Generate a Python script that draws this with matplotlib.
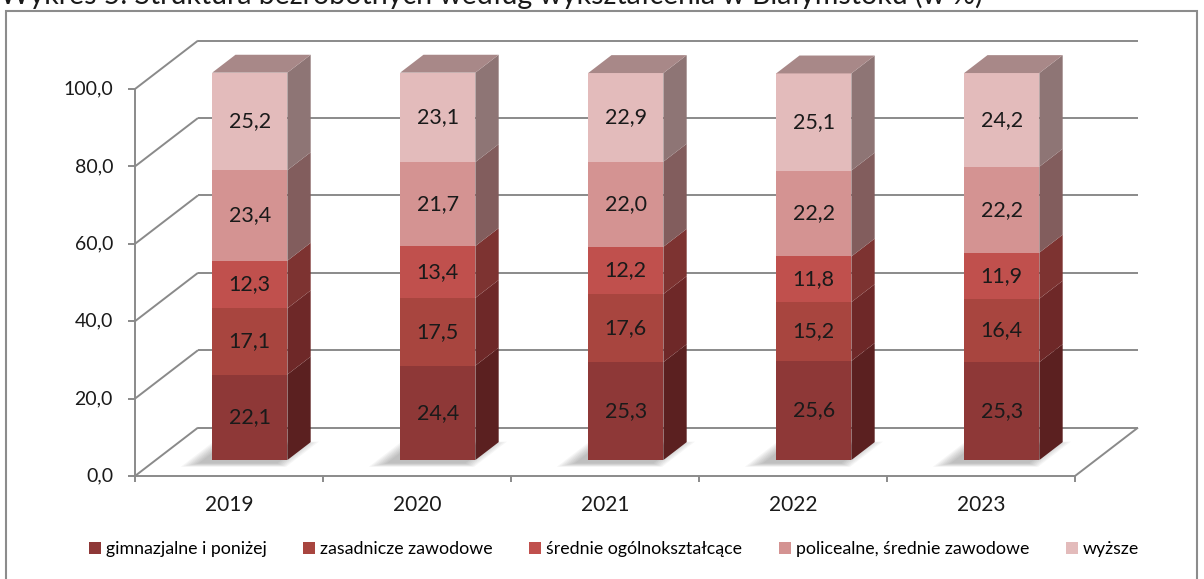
import matplotlib
matplotlib.use("Agg")
import matplotlib.pyplot as plt
from matplotlib.patches import Polygon, Rectangle, Patch

# data (%)
years = ["2019", "2020", "2021", "2022", "2023"]
gimnazjalne = [22.1, 24.4, 25.3, 25.6, 25.3]
zasadnicze = [17.1, 17.5, 17.6, 15.2, 16.4]
srednie_ogolne = [12.3, 13.4, 12.2, 11.8, 11.9]
policealne = [23.4, 21.7, 22.0, 22.2, 22.2]
wyzsze = [25.2, 23.1, 22.9, 25.1, 24.2]

series_names = ["gimnazjalne i poniżej", "zasadnicze zawodowe", "średnie ogólnokształcące",
                "policealne, średnie zawodowe", "wyższe"]
y_ticks = [0, 20, 40, 60, 80, 100]
title = "Wykres 5. Struktura bezrobotnych według wykształcenia w Białymstoku (w %)"

front_colors = ["#8e3837", "#a8453f", "#c0504d", "#d49392", "#e3bbbb"]
side_colors = ["#5b2020", "#6e2828", "#7d3331", "#825d5d", "#8e7575"]
top_color = "#a88888"
grid_color = "#8a8a8a"

plt.rcParams["font.family"] = ["Lato", "DejaVu Sans"]

W, H = 1204, 579
fig = plt.figure(figsize=(W / 100, H / 100), dpi=100)
ax = fig.add_axes([0, 0, 1, 1])

# pixel scale of the front plane
PX_X, PX_Y = 188.0, 3.87
x0 = -0.5 - 135 / PX_X
y0 = -(H - 476) / PX_Y
ax.set_xlim(x0, x0 + W / PX_X)
ax.set_ylim(y0, y0 + H / PX_Y)
ax.axis("off")

# fake 3d: depth offset of the back wall, bar depth range and width
DX, DY = 0.335, 12.5
D1, D2 = 0.33, 0.70
BW = 0.40
n = len(years)
xa, xb = -0.5, n - 0.5


def proj(x, y, d):
    return (x + DX * d, y + DY * d)


def seg(p, q, **kw):
    ax.plot([p[0], q[0]], [p[1], q[1]], color=grid_color, lw=1.4,
            solid_capstyle="butt", **kw)


# walls and gridlines
for v in y_ticks:
    seg(proj(xa, v, 1), proj(xb, v, 1))
    seg((xa, v), proj(xa, v, 1))
    seg((xa - 0.037, v), (xa, v))
    ax.text(xa - 0.117, v, f"{v:.1f}".replace(".", ","), ha="right", va="center",
            fontsize=14, color="#1a1a1a")
seg((xa, 0), (xa, y_ticks[-1]))
seg((xa, 0), (xb, 0))
seg((xb, 0), proj(xb, 0, 1))
for k in range(n + 1):
    seg((xa + k, 0), (xa + k, -1.6))

for i, yr in enumerate(years):
    ax.text(i, -7.4, yr, ha="center", va="center", fontsize=15, color="#1a1a1a")

# bars
data = [gimnazjalne, zasadnicze, srednie_ogolne, policealne, wyzsze]
for i in range(n):
    xl, xr = i - BW / 2, i + BW / 2
    # soft shadow on the floor
    for k in range(8):
        e = 0.01 * k
        sh = [proj(xl - 0.05 - e, 0, D1 - 0.07 - e), proj(xr - 0.03 + e, 0, D1 - 0.07 - e),
              proj(xr - 0.03 + e, 0, D2 - 0.06 + e), proj(xl - 0.05 - e, 0, D2 - 0.06 + e)]
        ax.add_patch(Polygon(sh, closed=True, fc="#505050", ec="none", alpha=0.05))
    bottom = 0.0
    for s, vals in enumerate(data):
        h = vals[i]
        ax.bar(i + DX * D1, h, width=BW, bottom=bottom + DY * D1,
               color=front_colors[s], edgecolor="none", zorder=3)
        side = [proj(xr, bottom, D1), proj(xr, bottom, D2),
                proj(xr, bottom + h, D2), proj(xr, bottom + h, D1)]
        ax.add_patch(Polygon(side, closed=True, fc=side_colors[s], ec="none", zorder=3))
        ax.text(i + DX * D1, bottom + h / 2 + DY * D1, f"{h:.1f}".replace(".", ","),
                ha="center", va="center", fontsize=15.5, color="#1a1a1a", zorder=4)
        bottom += h
    top = [proj(xl, bottom, D1), proj(xr, bottom, D1),
           proj(xr, bottom, D2), proj(xl, bottom, D2)]
    ax.add_patch(Polygon(top, closed=True, fc=top_color, ec="none", zorder=3))

# chart frame and title (title sits partly above the image edge)
fig.patches.append(Rectangle((6 / W, -0.02), (1197 - 6) / W, (H - 11) / H + 0.02,
                             transform=fig.transFigure, fill=False,
                             ec="#8c8c8c", lw=1.5))
fig.text(0 / W, 1 - 4 / H, title, fontsize=20.5, va="baseline", ha="left", color="#1a1a1a")

handles = [Patch(facecolor=c, edgecolor="none") for c in front_colors]
fig.legend(handles, series_names, loc="center", bbox_to_anchor=(614 / W, 1 - 549 / H),
           ncol=5, frameon=False, fontsize=12.8, handlelength=0.68, handleheight=0.68,
           handletextpad=0.28, columnspacing=2.05)

fig.savefig("out.png", dpi=100)
